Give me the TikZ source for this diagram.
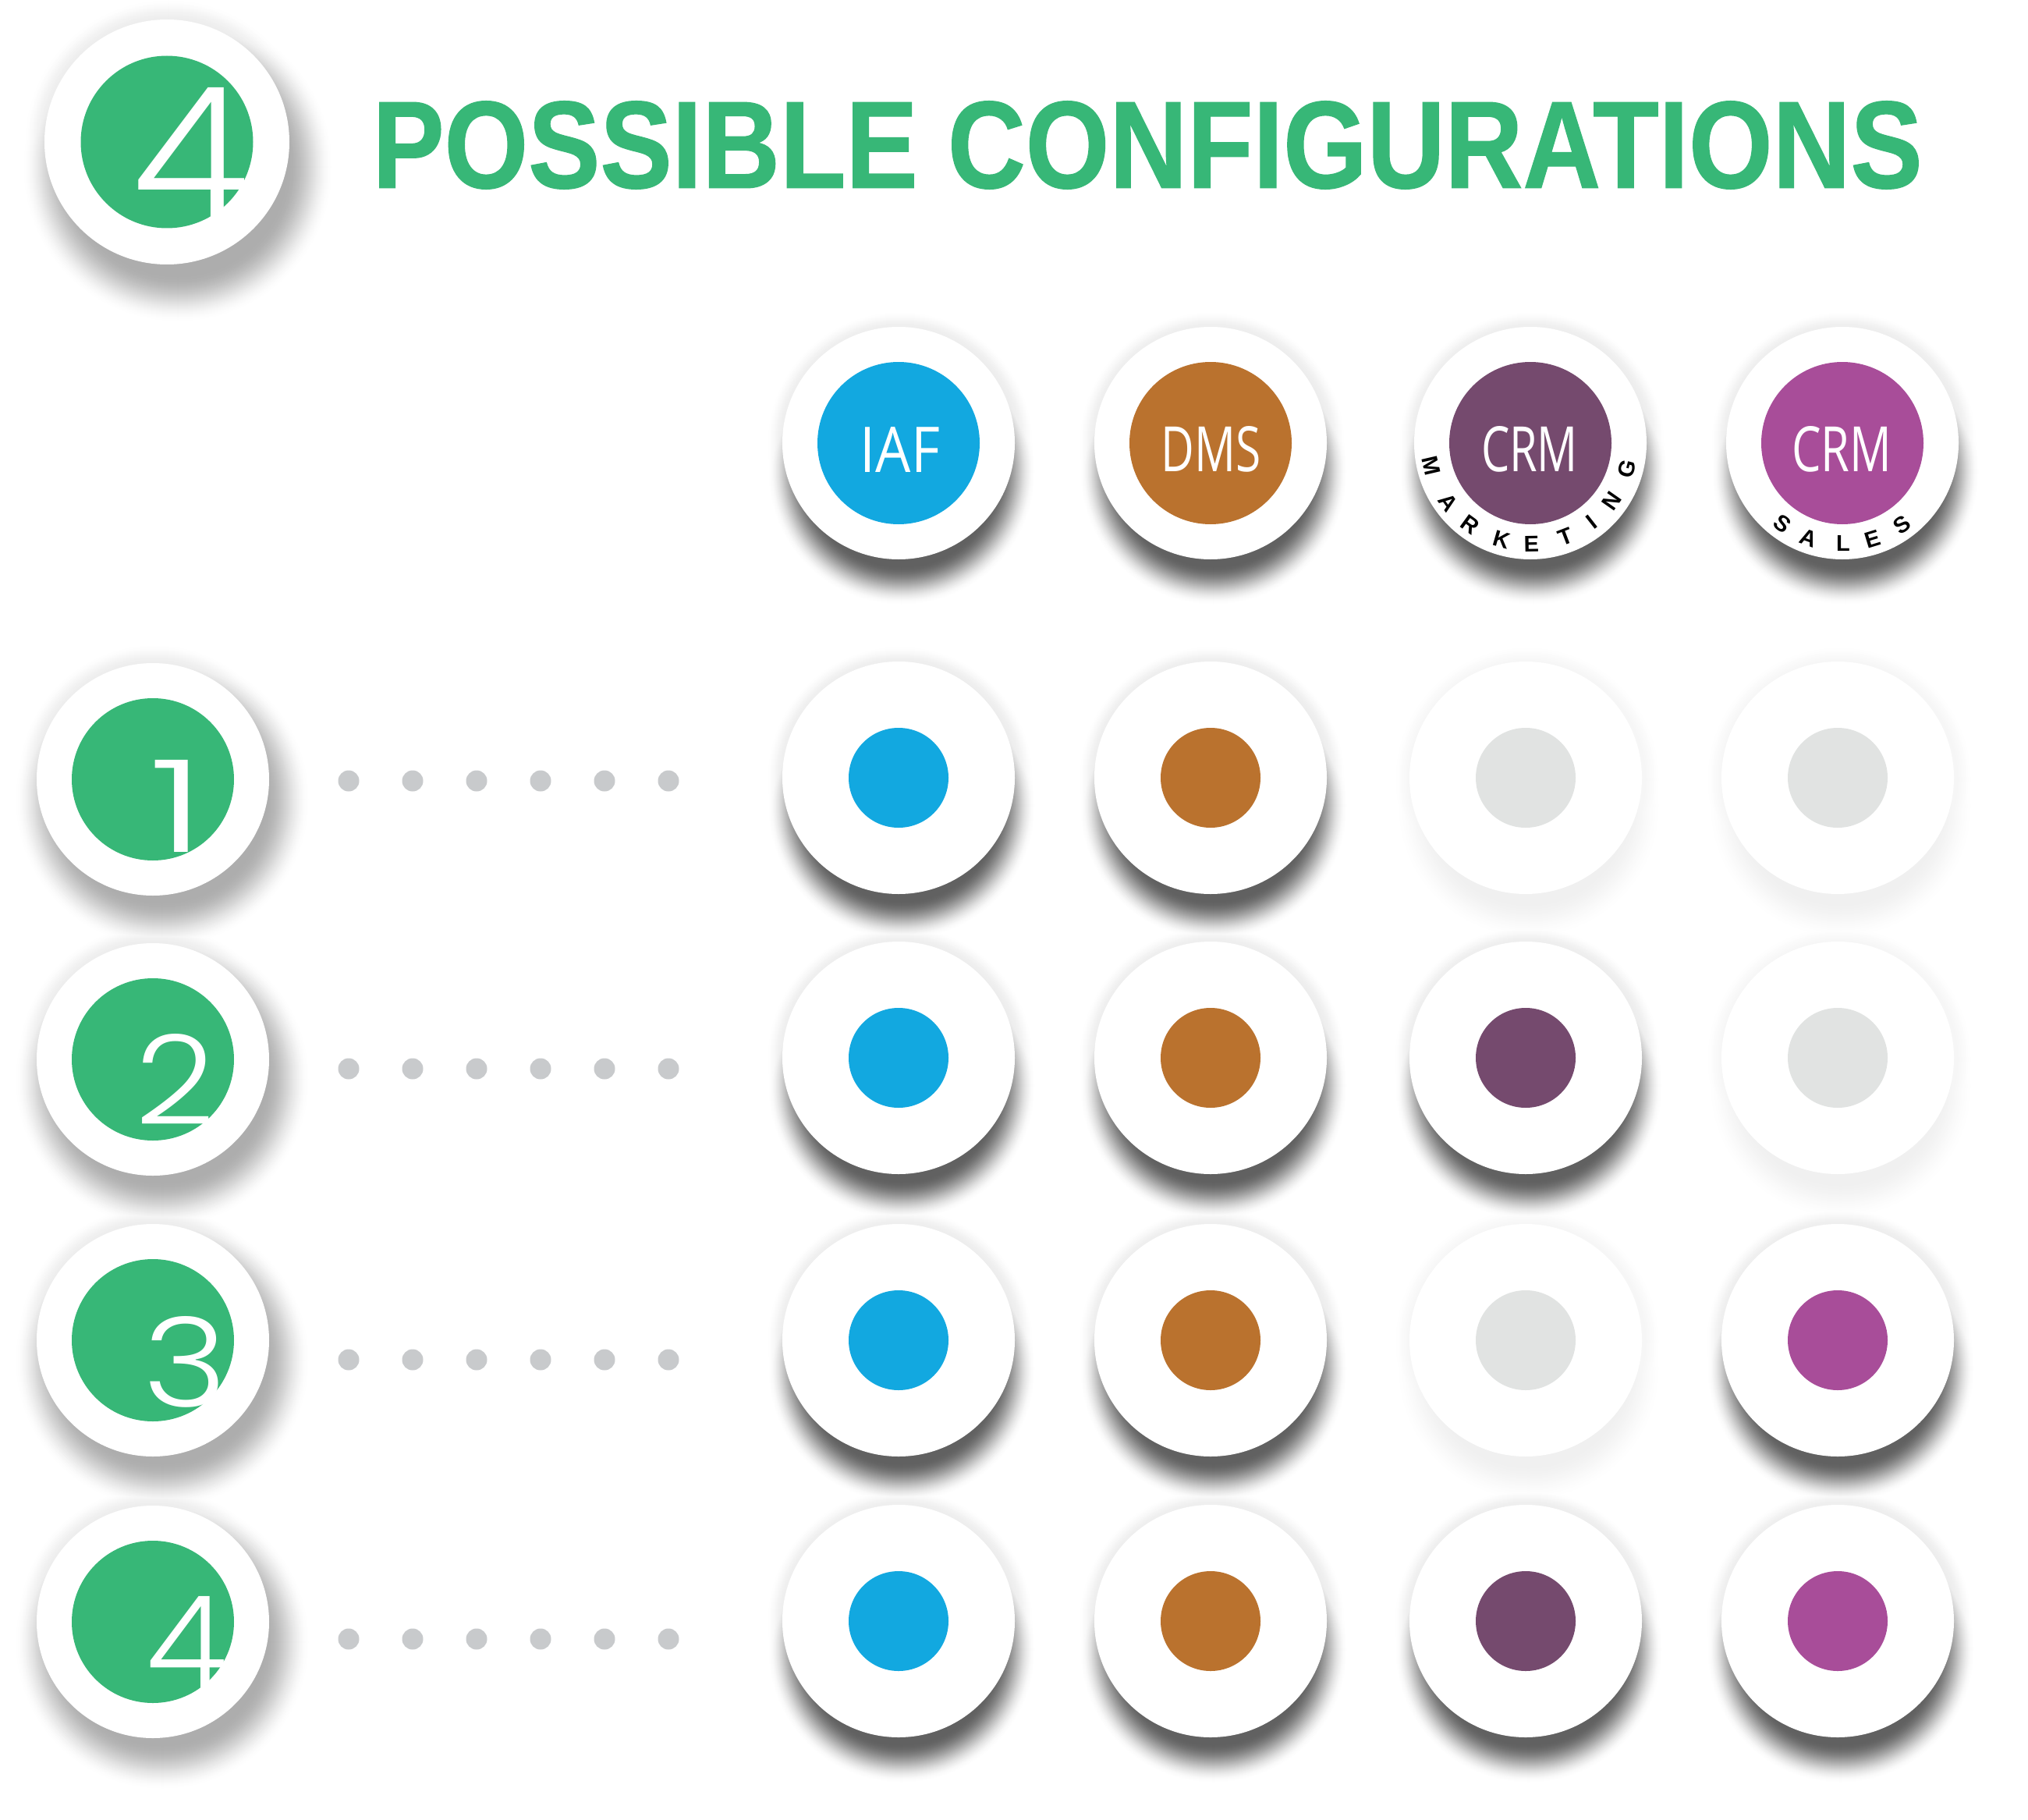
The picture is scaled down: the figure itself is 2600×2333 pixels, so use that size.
\documentclass[tikz,border=0pt]{standalone}
\usepackage{fontspec}
\setmainfont{Liberation Sans}
\newfontfamily\labfont{Open Sans}
\newfontfamily\digitfont{Poppins Light}
\newfontfamily\titlefont[FakeBold=0.9]{Liberation Sans Bold}
\definecolor{cgreen}{HTML}{37B777}
\definecolor{cblue}{HTML}{12A8E0}
\definecolor{corange}{HTML}{BA722E}
\definecolor{cplum}{HTML}{754A6E}
\definecolor{cmag}{HTML}{A84D99}
\definecolor{cgrey}{HTML}{E1E3E2}
\definecolor{cdot}{HTML}{C8CACC}
\tikzset{
  x=1pt,y=-1pt,
  disc/.style={circle,inner sep=0pt,outer sep=0pt,draw=none},
  ring/.style={disc,fill=white,minimum size=298pt},
  badge/.style={disc,minimum size=208pt},
  spot/.style={disc,minimum size=128pt},
  leader/.style={disc,fill=cdot,minimum size=27pt},
  lab/.style={inner sep=0pt,text=white},
  arcletter/.style={inner sep=0pt,text=black,font=\fontsize{29}{29}\selectfont\bfseries},
  digit/.style={inner sep=0pt,text=white}
}
% x, y, strength, dx, dy, outer radius, width of the blur
\newcommand{\softshadow}[7]{%
  \foreach \k in {1,...,#7}{%
    \pgfmathsetmacro{\tt}{\k/#7}
    \pgfmathsetmacro{\vv}{1-#3*\tt*\tt*(3-2*\tt)}
    \pgfmathsetmacro{\rr}{#6-\k}
    \fill[fill={rgb,1:red,\vv;green,\vv;blue,\vv}] (#1+#4,#2+#5) circle[radius=\rr];
  }%
}
\newcommand{\darkshadow}[2]{\softshadow{#1}{#2}{.07}{2}{2}{172}{23}\softshadow{#1}{#2}{.62}{4}{36}{172}{50}}
\newcommand{\paleshadow}[2]{\softshadow{#1}{#2}{.035}{2}{2}{172}{23}\softshadow{#1}{#2}{.06}{4}{36}{172}{50}}
\begin{document}
\begin{tikzpicture}
\fill[white] (0,0) rectangle (2600,2333);
\useasboundingbox (0,0) rectangle (2600,2333);
% shadows
\begin{scope}[blend mode=darken]
\softshadow{214}{182}{.07}{2}{2}{186}{28}
\softshadow{214}{182}{.32}{14}{32}{200}{60}
\foreach \yy in {999,1358,1718,2079}{%
  \softshadow{196}{\yy}{.07}{2}{2}{176}{26}
  \softshadow{196}{\yy}{.32}{12}{26}{190}{58}}
\foreach \xx in {1152,1552,1962,2362}{\darkshadow{\xx}{568}}
\foreach \xx in {1152,1552}{\foreach \yy in {997,1356,1718,2078}{\darkshadow{\xx}{\yy}}}
\darkshadow{1956}{1356}
\darkshadow{1956}{2078}
\darkshadow{2356}{1718}
\darkshadow{2356}{2078}
\paleshadow{1956}{997}
\paleshadow{2356}{997}
\paleshadow{2356}{1356}
\paleshadow{1956}{1718}
\end{scope}
% title
\node[inner sep=0pt,text=cgreen,anchor=center] (title) at (1471,186)
  {\resizebox{1986pt}{111pt}{\titlefont POSSIBLE CONFIGURATIONS}};
% header badge
\node[ring,minimum size=314pt] (hring) at (214,182) {};
\node[badge,fill=cgreen,minimum size=221pt] (hbadge) at (214,182) {};
\node[digit,anchor=center] (hdigit) at (245,198) {\resizebox{150pt}{172pt}{\digitfont 4}};
% row badges
\foreach \n/\yy/\dx/\dy/\ww/\hh in {1/999/228/1033/72/118,2/1358/225/1383/102/116,3/1718/238/1746/108/116,4/2079/240/2106/104/120}{
  \node[ring] (r\n) at (196,\yy) {};
  \node[badge,fill=cgreen] (b\n) at (196,\yy) {};
  \node[digit] (d\n) at (\dx,\dy) {\resizebox{\ww pt}{\hh pt}{\digitfont \n}};
}
% leader dots
\foreach \n/\yy in {1/1001,2/1370,3/1743,4/2101}{
  \foreach \m/\xx in {1/447,2/529,3/611,4/693,5/775,6/857}{
    \node[leader] (l\n\m) at (\xx,\yy) {};
  }
}
% column heads
\foreach \nm/\xx/\cc in {iaf/1152/cblue,dms/1552/corange,mkt/1962/cplum,sal/2362/cmag}{
  \node[ring] (h\nm) at (\xx,568) {};
  \node[badge,fill=\cc] (i\nm) at (\xx,568) {};
}
\node[lab] (tiaf) at (1154,576) {\resizebox{102pt}{58pt}{\labfont IAF}};
\node[lab] (tdms) at (1553,576) {\resizebox{128pt}{58pt}{\labfont DMS}};
\node[lab] (tmkt) at (1961,576) {\resizebox{124pt}{58pt}{\labfont CRM}};
\node[lab] (tsal) at (2361,576) {\resizebox{128pt}{58pt}{\labfont CRM}};
% arc letters
\foreach \i/\ch/\th in {1/M/-77,2/A/-54,3/R/-36,4/K/-16,5/E/1,6/T/21,7/I/38,8/N/55,9/G/75}{
  \node[arcletter,rotate=\th] (m\i) at ({1961+129*sin(\th)},{568+129*cos(\th)}) {\ch};
}
\foreach \i/\ch/\th in {1/S/-37,2/A/-20,3/L/0,4/E/17,5/S/36}{
  \node[arcletter,rotate=\th] (s\i) at ({2363+129*sin(\th)},{568+129*cos(\th)}) {\ch};
}
% grid
\foreach \c/\xx/\yy/\cc in {
  a1/1152/997/cblue,a2/1152/1356/cblue,a3/1152/1718/cblue,a4/1152/2078/cblue,
  o1/1552/997/corange,o2/1552/1356/corange,o3/1552/1718/corange,o4/1552/2078/corange,
  p1/1956/997/cgrey,p2/1956/1356/cplum,p3/1956/1718/cgrey,p4/1956/2078/cplum,
  q1/2356/997/cgrey,q2/2356/1356/cgrey,q3/2356/1718/cmag,q4/2356/2078/cmag}{
  \node[ring] (g\c) at (\xx,\yy) {};
  \node[spot,fill=\cc] (s\c) at (\xx,\yy) {};
}
\end{tikzpicture}
\end{document}
